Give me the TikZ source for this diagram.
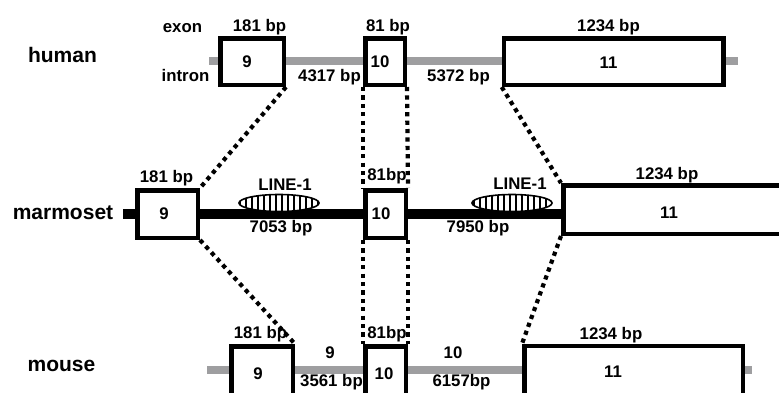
\documentclass[tikz,border=0pt]{standalone}
\usepackage{fontspec}
\setmainfont{Liberation Sans}
\usetikzlibrary{shapes.geometric,patterns.meta}
\definecolor{introngray}{RGB}{158,158,160}

\begin{document}
\begin{tikzpicture}[x=1pt, y=-1pt,
    exonbox/.style={draw, line width=4.5pt, fill=white, inner sep=0pt},
    txt/.style={inner sep=0pt, anchor=base, font=\fontsize{16.8}{18}\selectfont\bfseries},
    species/.style={inner sep=0pt, anchor=base, font=\fontsize{21}{24}\selectfont\bfseries},
    intron/.style={draw=introngray, line width=7.5pt},
    chromo/.style={draw, line width=9.5pt},
    link/.style={line width=4.2pt, dash pattern=on 4.2pt off 4.2pt},
    lineone/.style={ellipse, draw, line width=1.6pt, minimum width=80pt, minimum height=17pt, inner sep=0pt,
        preaction={fill=white}, pattern={Lines[angle=90,distance=6pt,line width=1.1pt]}}]
    \useasboundingbox (0,0) rectangle (779,392);
    \clip (0,0) rectangle (779,392);

    % Human
    \coordinate (hL) at (209,61);
    \coordinate (hR) at (738,61);
    \draw[intron] (hL) -- (hR);
    \node[exonbox, minimum width=63.5pt, minimum height=46.5pt] (h9) at (252,61.5) {};
    \node[exonbox, minimum width=39.5pt, minimum height=46.5pt] (h10) at (385,61.5) {};
    \node[exonbox, minimum width=219.5pt, minimum height=46.5pt] (h11) at (613.7,61.5) {};
    \node[species] (hname) at (62.5,62) {human};
    \node[txt] (hexon) at (182.5,32) {exon};
    \node[txt] (hintron) at (185.5,81) {intron};
    \node[txt] (hlen9) at (259.5,31) {181 bp};
    \node[txt] (hlen10) at (388,31) {81 bp};
    \node[txt] (hlen11) at (608.5,31) {1234 bp};
    \node[txt] (hi9) at (329.5,81) {4317 bp};
    \node[txt] (hi10) at (458.5,81) {5372 bp};
    \node[txt] (hn9) at (247,67) {9};
    \node[txt] (hn10) at (380,67) {10};
    \node[txt] (hn11) at (608.5,68) {11};

    % Marmoset
    \coordinate (mL) at (123,214);
    \node[exonbox, minimum width=60.5pt, minimum height=47.5pt] (m9) at (167.5,214) {};
    \node[exonbox, minimum width=40.5pt, minimum height=47.5pt] (m10) at (385.5,214) {};
    \node[exonbox, minimum width=234.5pt, minimum height=48.5pt] (m11) at (680.5,209.5) {};
    \draw[chromo] (mL) -- (m9.west |- mL);
    \draw[chromo] (m9.east |- mL) -- (m10.west |- mL);
    \draw[chromo] (m10.east |- mL) -- (m11.west |- mL);
    \node[lineone] (mrep9) at (279,203) {};
    \node[lineone] (mrep10) at (512,203) {};
    \node[species] (mname) at (63,219) {marmoset};
    \node[txt] (mlen9) at (166.5,182) {181 bp};
    \node[txt] (mlen10) at (387,180) {81bp};
    \node[txt] (mlen11) at (667,179) {1234 bp};
    \node[txt] (mtag9) at (285,190) {LINE-1};
    \node[txt] (mtag10) at (520,189) {LINE-1};
    \node[txt] (mi9) at (281,232) {7053 bp};
    \node[txt] (mi10) at (478,232) {7950 bp};
    \node[txt] (mn9) at (164,219) {9};
    \node[txt] (mn10) at (381,219) {10};
    \node[txt] (mn11) at (669,218) {11};

    % Mouse (boxes run off the bottom edge)
    \coordinate (uL) at (207,370);
    \coordinate (uR) at (752,370);
    \draw[intron] (uL) -- (uR);
    \node[exonbox, minimum width=61.5pt, minimum height=60pt] (u9) at (262,376.25) {};
    \node[exonbox, minimum width=40.5pt, minimum height=60pt] (u10) at (385.5,376.25) {};
    \node[exonbox, minimum width=218.5pt, minimum height=60pt] (u11) at (633.5,376) {};
    \node[species] (uname) at (61.5,371) {mouse};
    \node[txt] (ulen9) at (260.5,338) {181 bp};
    \node[txt] (ulen10) at (387,338) {81bp};
    \node[txt] (ulen11) at (611,339) {1234 bp};
    \node[txt] (uk9) at (330,358) {9};
    \node[txt] (uk10) at (453,358) {10};
    \node[txt] (ui9) at (331.5,386) {3561 bp};
    \node[txt] (ui10) at (461.5,386) {6157bp};
    \node[txt] (un9) at (258,379) {9};
    \node[txt] (un10) at (384,379) {10};
    \node[txt] (un11) at (613,377) {11};

    % Dotted links
    \draw[link] (h9.south east) -- (m9.north east);
    \foreach \c in {west,east} \draw[link] (h10.south \c) -- (m10.north \c);
    \draw[link] (h11.south west) -- (m11.north west);
    \draw[link] (m9.south east) -- (u9.north east);
    \foreach \c in {west,east} \draw[link] (m10.south \c) -- (u10.north \c);
    \draw[link] (m11.south west) -- (u11.north west);
\end{tikzpicture}
\end{document}
